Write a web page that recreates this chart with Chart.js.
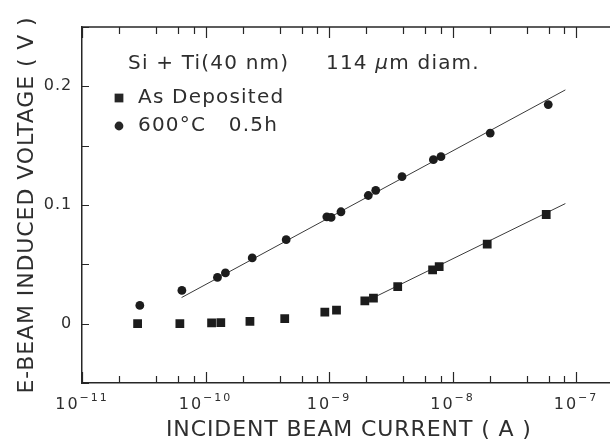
<!DOCTYPE html>
<html>
<head>
<meta charset="utf-8">
<script src="https://cdn.jsdelivr.net/npm/chart.js@4.4.0/dist/chart.umd.min.js"></script>
<style>
  html, body { margin: 0; padding: 0; background: #fff; overflow: hidden; }
  #wrap { width: 622px; height: 443px; }
</style>
</head>
<body>
<div id="wrap"><canvas id="chart" width="622" height="443"></canvas></div>
<script>
// beam current (A) and induced voltage (V)
const depositedCurrent = [2.82e-11, 6.2e-11, 1.12e-10, 1.33e-10, 2.29e-10, 4.38e-10, 9.25e-10, 1.15e-9, 1.95e-9, 2.29e-9, 3.6e-9, 6.9e-9, 7.8e-9, 1.91e-8, 5.74e-8]
const depositedVoltage = [0, 0, 0.0006, 0.0008, 0.002, 0.0042, 0.0098, 0.0115, 0.0193, 0.0215, 0.0313, 0.0453, 0.0481, 0.0671, 0.092]
const annealedCurrent = [2.94e-11, 6.44e-11, 1.25e-10, 1.45e-10, 2.39e-10, 4.5e-10, 9.6e-10, 1.04e-9, 1.25e-9, 2.08e-9, 2.39e-9, 3.9e-9, 7.0e-9, 8.06e-9, 2.02e-8, 5.96e-8]
const annealedVoltage = [0.0154, 0.028, 0.039, 0.0428, 0.0554, 0.0708, 0.090, 0.0895, 0.0943, 0.108, 0.1124, 0.1239, 0.1382, 0.1407, 0.1606, 0.1846]

// the two straight fits
const fitAnnealedCurrent = [6.4e-11, 8.2e-8]
const fitAnnealedVoltage = [0.022, 0.197]
const fitDepositedCurrent = [2.3e-9, 8.2e-8]
const fitDepositedVoltage = [0.022, 0.1012]

// axes
const xMajorTicks = [1e-11, 1e-10, 1e-9, 1e-8, 1e-7]
const xTickBase = '10'
const xTickExponents = ['−11', '−10', '−9', '−8', '−7']
const xMinorSteps = [2, 4, 6, 8]
const yTicks = [-0.05, 0, 0.05, 0.1, 0.15, 0.2, 0.25]
const yTickLabels = ['', '0', '', '0.1', '', '0.2', '']

const ink = '#262626'
const textInk = '#2e2e2e'
const fam = '"DejaVu Sans", sans-serif'
const toPoints = (xs, ys) => xs.map((v, i) => ({x: v, y: ys[i]}))

Chart.defaults.font.family = fam
Chart.defaults.color = textInk

// a bit of tracking on the axis text, like the old plotter lettering
const tracking = {
    id: 'tracking',
    beforeDraw(chart) { chart.ctx.letterSpacing = '0.9px' },
    afterDraw(chart) { chart.ctx.letterSpacing = '0px' }
}

// ticks point inward, top edge mirrored, decade labels with raised exponent
const frameTicks = {
    id: 'frameTicks',
    afterDatasetsDraw(chart) {
        const {ctx, chartArea: a, scales: {x, y}} = chart
        ctx.save()
        ctx.strokeStyle = ink
        ctx.lineWidth = 1.5
        ctx.beginPath()
        ctx.moveTo(a.left, a.top)
        ctx.lineTo(a.right, a.top)
        ctx.stroke()
        ctx.lineWidth = 1.2
        ctx.beginPath()
        for (const t of x.ticks) {
            const px = Math.round(x.getPixelForValue(t.value)) + 0.5
            const len = t.major ? 11 : 7
            ctx.moveTo(px, a.bottom)
            ctx.lineTo(px, a.bottom - len)
            ctx.moveTo(px, a.top)
            ctx.lineTo(px, a.top + len)
        }
        for (const t of y.ticks) {
            const py = Math.round(y.getPixelForValue(t.value)) + 0.5
            ctx.moveTo(a.left, py)
            ctx.lineTo(a.left + 7, py)
        }
        ctx.stroke()

        ctx.fillStyle = textInk
        ctx.textBaseline = 'alphabetic'
        ctx.letterSpacing = '2px'
        xMajorTicks.forEach((v, i) => {
            const px = x.getPixelForValue(v)
            ctx.font = '16px ' + fam
            const wBase = ctx.measureText(xTickBase).width
            ctx.font = '11px ' + fam
            const wExp = ctx.measureText(xTickExponents[i]).width
            const x0 = px - (wBase + wExp) / 2
            ctx.font = '16px ' + fam
            ctx.fillText(xTickBase, x0, a.bottom + 26)
            ctx.font = '11px ' + fam
            ctx.fillText(xTickExponents[i], x0 + wBase, a.bottom + 18)
        })
        ctx.restore()
    }
}

// sample note and legend inside the frame
const notes = {
    id: 'notes',
    afterDraw(chart) {
        const {ctx, chartArea: a} = chart
        ctx.save()
        ctx.letterSpacing = '1.2px'
        ctx.fillStyle = textInk
        ctx.textBaseline = 'middle'
        ctx.font = '20px ' + fam
        ctx.fillText('Si + Ti(40 nm)', a.left + 46, a.top + 37)
        let tx = a.left + 244
        ctx.fillText('114 ', tx, a.top + 37)
        tx += ctx.measureText('114 ').width
        ctx.font = 'italic 20px ' + fam
        ctx.fillText('μ', tx, a.top + 37)
        tx += ctx.measureText('μ').width
        ctx.font = '20px ' + fam
        ctx.fillText('m diam.', tx, a.top + 37)

        let ly = a.top + 71
        for (const ds of chart.data.datasets) {
            if (!ds.inLegend) continue
            ctx.fillStyle = ink
            Chart.helpers.drawPoint(ctx, {pointStyle: ds.pointStyle, radius: ds.pointRadius, rotation: 0, borderWidth: 0}, a.left + 37, ly)
            ctx.fillStyle = textInk
            ctx.fillText(ds.label, a.left + 56, ly)
            ly += 28
        }
        ctx.restore()
    }
}

new Chart(document.getElementById('chart'), {
    type: 'scatter',
    data: {
        datasets: [{
            label: 'As Deposited',
            inLegend: true,
            data: toPoints(depositedCurrent, depositedVoltage),
            pointStyle: 'rect',
            pointRadius: 6.2,
            backgroundColor: '#1c1c1c',
            borderWidth: 0
        }, {
            label: '600°C   0.5h',
            inLegend: true,
            data: toPoints(annealedCurrent, annealedVoltage),
            pointStyle: 'circle',
            pointRadius: 4.4,
            backgroundColor: '#1c1c1c',
            borderWidth: 0
        }, {
            label: 'fit annealed',
            data: toPoints(fitAnnealedCurrent, fitAnnealedVoltage),
            showLine: true,
            pointRadius: 0,
            borderColor: '#3a3a3a',
            borderWidth: 1
        }, {
            label: 'fit deposited',
            data: toPoints(fitDepositedCurrent, fitDepositedVoltage),
            showLine: true,
            pointRadius: 0,
            borderColor: '#3a3a3a',
            borderWidth: 1
        }]
    },
    options: {
        responsive: false,
        animation: false,
        layout: {padding: {top: 27, right: 0, left: 0, bottom: 0}},
        plugins: {legend: {display: false}, tooltip: {enabled: false}},
        scales: {
            x: {
                type: 'logarithmic',
                min: 1e-11,
                max: 2.1e-7,
                afterBuildTicks(scale) {
                    const ticks = []
                    for (const d of xMajorTicks) {
                        ticks.push({value: d, major: true})
                        for (const s of xMinorSteps) {
                            if (d * s <= scale.max) ticks.push({value: d * s, major: false})
                        }
                    }
                    scale.ticks = ticks
                },
                afterFit(scale) { scale.height = 60 },
                grid: {display: false, drawTicks: false},
                border: {display: true, color: ink, width: 1.5},
                ticks: {display: false, autoSkip: false, maxRotation: 0},
                title: {
                    display: true,
                    text: 'INCIDENT BEAM CURRENT ( A )',
                    font: {size: 22},
                    padding: {top: 0, bottom: 0}
                }
            },
            y: {
                min: -0.05,
                max: 0.25,
                afterBuildTicks(scale) {
                    scale.ticks = yTicks.map(v => ({value: v}))
                },
                afterFit(scale) { scale.width = 82 },
                grid: {display: false, drawTicks: false},
                border: {display: true, color: ink, width: 1.5},
                ticks: {
                    autoSkip: false,
                    padding: 10,
                    font: {size: 16},
                    callback(value, i) { return yTickLabels[i] }
                },
                title: {
                    display: true,
                    text: 'E-BEAM INDUCED VOLTAGE ( V )',
                    font: {size: 22},
                    padding: {top: 14, bottom: 0}
                }
            }
        }
    },
    plugins: [tracking, frameTicks, notes]
})
</script>
</body>
</html>
